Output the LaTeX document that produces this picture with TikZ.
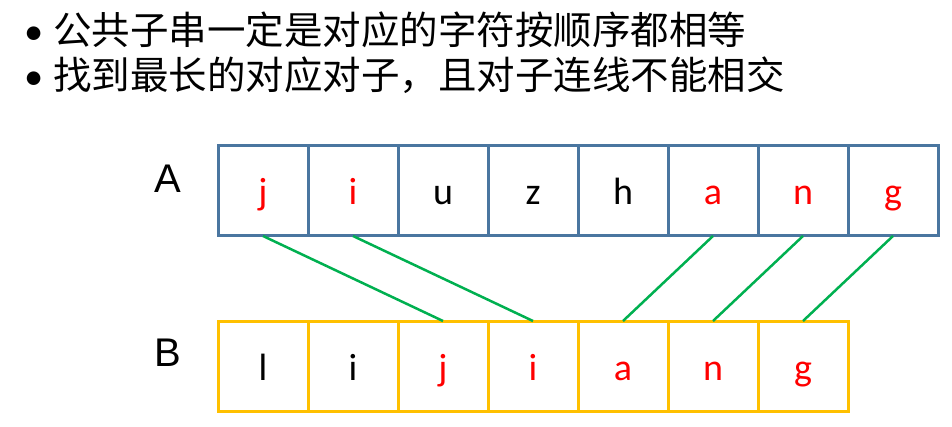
\documentclass[tikz,border=0pt]{standalone}
\usepackage{fontspec}
\setmainfont{Carlito}
\newfontfamily\cjk{Noto Sans CJK SC}
\newfontfamily\arialfont{Liberation Sans}
\usetikzlibrary{positioning}
\definecolor{rowA}{HTML}{4A76A0}
\definecolor{rowB}{HTML}{FFC000}
\definecolor{pairline}{HTML}{00B050}
\definecolor{hit}{HTML}{FF0000}

\begin{document}
\begin{tikzpicture}[x=1pt, y=-1pt, node distance={0pt},
		abox/.style = {draw=rowA, line width=3pt, minimum size=90pt, outer sep=0pt, inner sep=0pt,
			text height=34pt, text depth=6pt, font=\fontsize{38}{42}\selectfont},
		bbox/.style = {abox, draw=rowB},
		rowlabel/.style = {font=\arialfont\fontsize{40}{44}\selectfont, inner sep=0pt},
		pair/.style = {draw=pairline, line width=2.5pt}]
		\useasboundingbox (0,0) rectangle (952,427);
		\node[anchor=west, inner sep=0pt, font=\fontsize{38.5}{42}\selectfont] (t1) at (24,30) {\textbullet\hspace{10pt}\cjk 公共子串一定是对应的字符按顺序都相等};
		\node[anchor=west, inner sep=0pt, font=\fontsize{38.5}{42}\selectfont] (t2) at (24,75) {\textbullet\hspace{10pt}\cjk 找到最长的对应对子，且对子连线不能相交};
		
		\node[abox] (a1) at (263,191) {\color{hit}j};
		\node[abox] (a2) [right=of a1] {\color{hit}i};
		\node[abox] (a3) [right=of a2] {u};
		\node[abox] (a4) [right=of a3] {z};
		\node[abox] (a5) [right=of a4] {h};
		\node[abox] (a6) [right=of a5] {\color{hit}a};
		\node[abox] (a7) [right=of a6] {\color{hit}n};
		\node[abox] (a8) [right=of a7] {\color{hit}g};
		
		\node[bbox] (b1) at (263,366) {l};
		\node[bbox] (b2) [right=of b1] {i};
		\node[bbox] (b3) [right=of b2] {\color{hit}j};
		\node[bbox] (b4) [right=of b3] {\color{hit}i};
		\node[bbox] (b5) [right=of b4] {\color{hit}a};
		\node[bbox] (b6) [right=of b5] {\color{hit}n};
		\node[bbox] (b7) [right=of b6] {\color{hit}g};
		
		\node[rowlabel] (la) at (168,179) {A};
		\node[rowlabel] (lb) at (168,353) {B};
		
		\draw[pair] (a1.south) -- (b3.north);
		\draw[pair] (a2.south) -- (b4.north);
		\draw[pair] (a6.south) -- (b5.north);
		\draw[pair] (a7.south) -- (b6.north);
		\draw[pair] (a8.south) -- (b7.north);
	\end{tikzpicture}
\end{document}
